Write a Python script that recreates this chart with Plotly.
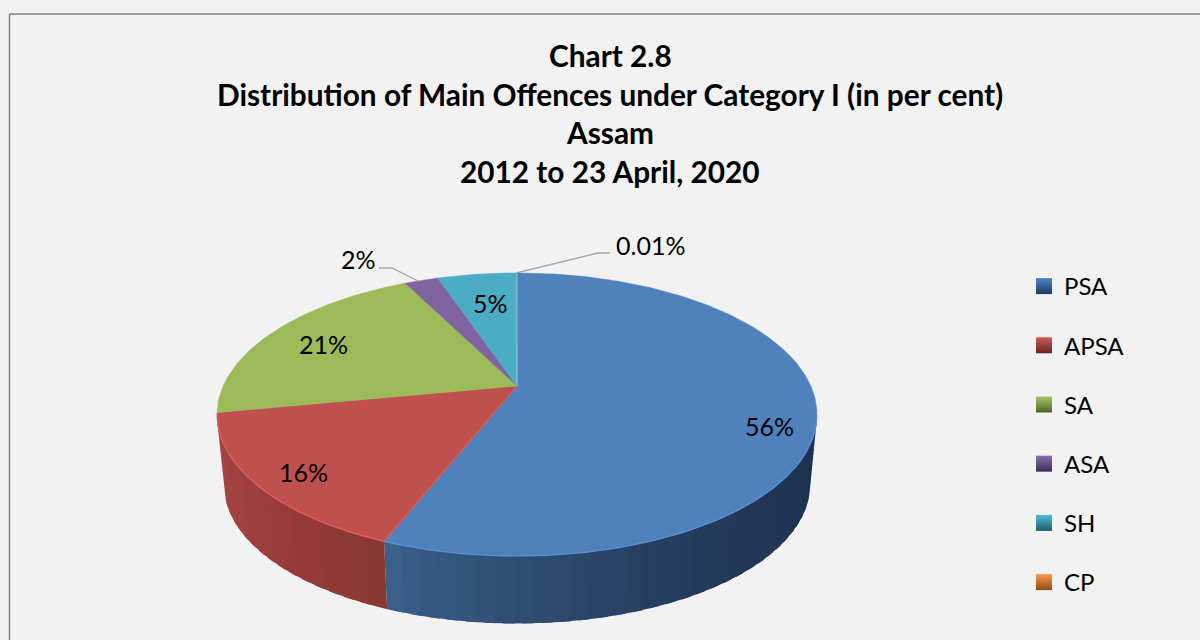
import math
import plotly.graph_objects as go

# ---- data ----
categories = ["PSA", "APSA", "SA", "ASA", "SH", "CP"]
values = [56.0, 16.0, 20.6, 2.2, 5.2, 0.01]
slice_labels = ["56%", "16%", "21%", "2%", "5%", "0.01%"]
title_lines = ["Chart 2.8",
               "Distribution of Main Offences under Category I (in per cent)",
               "Assam",
               "2012 to 23 April, 2020"]

# ---- style ----
top_colors = ["#4f81bd", "#c0504d", "#9bbb59", "#8064a2", "#4bacc6", "#a9c6dc"]
rim_colors = ["#5a90d2", "#e2605c", "#b0d266", "#9378b8", "#5cc4e0", "#ffa850"]
legend_light = ["#4a86c8", "#cf5a56", "#a4c763", "#8a6db0", "#4fbdd8", "#fb9c4c"]
legend_dark = ["#1f3a5c", "#682623", "#4f6428", "#3e2f58", "#215a69", "#8a4d18"]
wall_ramps = {"PSA": ("#1e3350", "#3a5f8a", 2.2), "APSA": ("#8a3734", "#ab4643", 1.0)}
BG = "#f2f2f2"
FONT = "Lato"

# projection of the pie (perspective view)
CX = 517
A = 0.2014
TOP = dict(c=293.8, b=135.8, y0=386.0)
BOT = dict(c=287.0, b=133.0, y0=457.0)


def proj(theta, p):
    u, v = math.sin(theta), math.cos(theta)
    d = 1 + A * v
    return CX + p["c"] * u / d, p["y0"] - p["b"] * v / d


def arc(t1, t2, p, n=None):
    n = n or max(2, int(abs(t2 - t1) / math.radians(1)) + 2)
    return [proj(t1 + (t2 - t1) * i / (n - 1), p) for i in range(n)]


def mix(c1, c2, f):
    a = [int(c1[i:i + 2], 16) for i in (1, 3, 5)]
    b = [int(c2[i:i + 2], 16) for i in (1, 3, 5)]
    return "#%02x%02x%02x" % tuple(round(x + (y - x) * f) for x, y in zip(a, b))


total = sum(values)
edges = [0.0]
for val in values:
    edges.append(edges[-1] + val / total * 2 * math.pi)

fig = go.Figure()
vis1, vis2 = math.acos(-A), 2 * math.pi - math.acos(-A)

# side wall, in shaded bands (each band overlaps the next so no seams appear)
for idx, name in enumerate(categories):
    if name not in wall_ramps:
        continue
    t1, t2 = max(edges[idx], vis1), min(edges[idx + 1], vis2)
    bands = int(math.degrees(t2 - t1) / 3)
    c_a, c_b, power = wall_ramps[name]
    for k in range(bands):
        a1 = t1 + (t2 - t1) * k / bands
        a2 = t1 + (t2 - t1) * min(bands, k + 1.6) / bands
        pts = arc(a1, a2, TOP, 4) + arc(a2, a1, BOT, 4)
        col = mix(c_a, c_b, (k / max(1, bands - 1)) ** power)
        fig.add_trace(go.Scatter(x=[q[0] for q in pts], y=[q[1] for q in pts], mode="lines",
                                 fill="toself", fillcolor=col, line=dict(width=0),
                                 hoverinfo="skip", showlegend=False))

# top face
apex = proj(0, dict(c=0, b=0, y0=TOP["y0"]))
for idx, name in enumerate(categories):
    pts = [apex] + arc(edges[idx], edges[idx + 1], TOP) + [apex]
    fig.add_trace(go.Scatter(x=[q[0] for q in pts], y=[q[1] for q in pts], mode="lines",
                             fill="toself", fillcolor=top_colors[idx],
                             line=dict(color=top_colors[idx], width=0.5),
                             name=name, text=slice_labels[idx], hoverinfo="text", showlegend=False))

# light rim on the front edge and the PSA / APSA cut
for idx, name in enumerate(categories):
    if name not in wall_ramps:
        continue
    pts = arc(max(edges[idx], vis1), min(edges[idx + 1], vis2), TOP)
    fig.add_trace(go.Scatter(x=[q[0] for q in pts], y=[q[1] for q in pts], mode="lines",
                             line=dict(color=rim_colors[idx], width=1.2),
                             hoverinfo="skip", showlegend=False))
cut = [apex, proj(edges[1], TOP)]
fig.add_trace(go.Scatter(x=[q[0] for q in cut], y=[q[1] for q in cut], mode="lines",
                         line=dict(color="#d9605c", width=1.2), hoverinfo="skip", showlegend=False))

# legend entries
for idx, name in enumerate(categories):
    fig.add_trace(go.Scatter(x=[None], y=[None], mode="markers", name=name, legendgroup=name,
                             marker=dict(symbol="square", size=17, color=legend_light[idx],
                                         gradient=dict(type="vertical", color=legend_dark[idx]),
                                         line=dict(width=0))))

# leader lines
fig.add_trace(go.Scatter(x=[379, 392, 418], y=[268, 268, 281], mode="lines",
                         line=dict(color="#a6a6a6", width=1.3), hoverinfo="skip", showlegend=False))
fig.add_trace(go.Scatter(x=[610, 598, 516], y=[253, 253, 273], mode="lines",
                         line=dict(color="#a6a6a6", width=1.3), hoverinfo="skip", showlegend=False))

annotations = []
for text, y in zip(title_lines, [55, 94, 132, 171]):
    annotations.append(dict(text=f"<b>{text}</b>", x=610, y=y, xref="x", yref="y", showarrow=False,
                            font=dict(family=FONT, size=29.8, color="#000000")))
label_pos = [(769, 426), (303, 472), (323, 344), (358, 259), (490, 303), (650, 245)]
for text, (x, y) in zip(slice_labels, label_pos):
    annotations.append(dict(text=text, x=x, y=y, xref="x", yref="y", showarrow=False,
                            font=dict(family=FONT, size=25, color="#000000")))

fig.update_layout(
    width=1200, height=640, margin=dict(l=0, r=0, t=0, b=0),
    paper_bgcolor=BG, plot_bgcolor=BG, font=dict(family=FONT, color="#000000"),
    xaxis=dict(range=[0, 1200], visible=False, fixedrange=True),
    yaxis=dict(range=[640, 0], visible=False, fixedrange=True),
    annotations=annotations,
    legend=dict(x=1024 / 1200, y=1 - 264 / 640, xanchor="left", yanchor="top", bgcolor="rgba(0,0,0,0)",
                font=dict(family=FONT, size=24, color="#000000"), tracegroupgap=25, itemclick=False,
                itemdoubleclick=False),
    shapes=[dict(type="line", xref="x", yref="y", x0=9.5, x1=9.5, y0=14, y1=640,
                 line=dict(color="#7f7f7f", width=1.5)),
            dict(type="line", xref="x", yref="y", x0=9.5, x1=1200, y0=14, y1=14,
                 line=dict(color="#7f7f7f", width=1.5))],
)
fig.write_html("out.html", config=dict(displayModeBar=False),
               post_script="document.body.style.margin='0';document.body.style.background='#f2f2f2';")
